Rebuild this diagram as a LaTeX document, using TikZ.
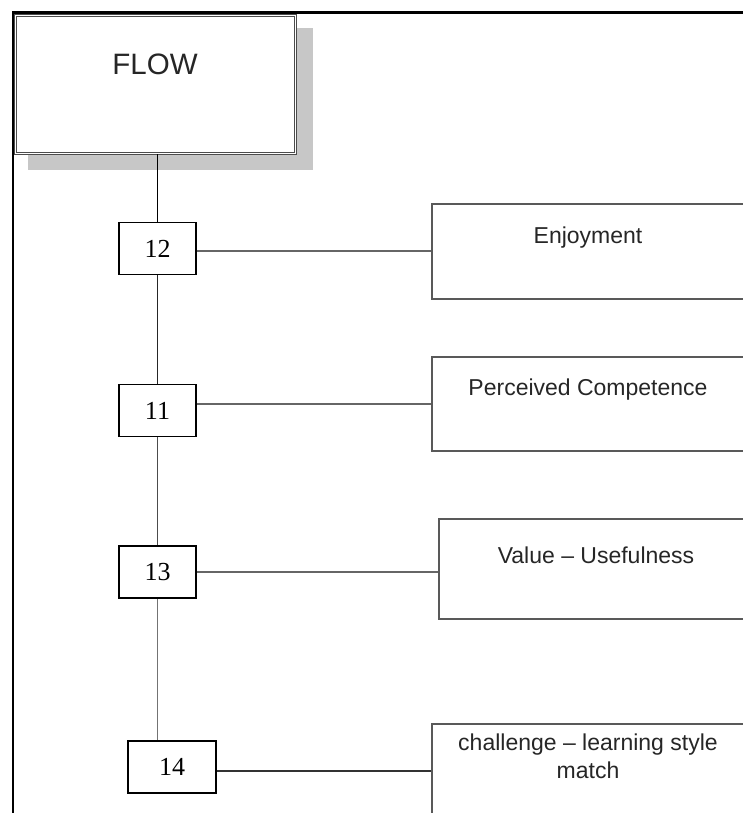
\documentclass[tikz,border=0pt]{standalone}
\usepackage{fontspec}
\setmainfont{Liberation Serif}
\setsansfont{Liberation Sans}
\usepackage{tikz}

\begin{document}
\begin{tikzpicture}[x=1pt,y=-1pt,
        numbox/.style={draw,line width=1.6pt,minimum width=77pt,minimum height=52pt,inner sep=0pt,
                       font=\fontsize{26}{28}\selectfont},
        factor/.style={draw=black!65,line width=1.6pt,anchor=north west,inner sep=0pt},
        txt/.style={font=\sffamily\fontsize{23}{28}\selectfont,text=black!85,inner sep=0pt,anchor=base,align=center},
        link/.style={line width=1.6pt}]
        \useasboundingbox (0,0) rectangle (743,813);
        \clip (0,0) rectangle (743,813);

        % page frame
        \draw[line width=2.2pt] (13,813) -- (13,12.5) -- (743,12.5);

        % top box with shadow
        \fill[black!22] (28,28) rectangle (313,170);
        \node[draw=black!70,line width=1.1pt,double=white,double distance=1.2pt,fill=white,
              minimum width=280pt,minimum height=138pt] (flow) at (155.5,84.5) {};
        \node[txt,font=\sffamily\fontsize{29.5}{32}\selectfont] (flowtxt) at (155,75) {FLOW};

        % numbered boxes
        \node[numbox] (n12) at (157.5,248.5) {12};
        \node[numbox] (n11) at (157.5,410.5) {11};
        \node[numbox] (n13) at (157.5,572) {13};
        \node[numbox,minimum width=88pt] (n14) at (172,767) {14};

        % factor boxes
        \node[factor,minimum width=314pt,minimum height=95pt] (enj) at (431,203) {};
        \node[factor,minimum width=314pt,minimum height=94pt] (pc) at (431,356) {};
        \node[factor,minimum width=316pt,minimum height=100pt] (val) at (438,518) {};
        \node[factor,minimum width=314pt,minimum height=100pt] (ch) at (431,723) {};

        \node[txt] (enjtxt) at (588,243) {Enjoyment};
        \node[txt] (pctxt) at (588,395) {Perceived Competence};
        \node[txt] (valtxt) at (596,563) {Value -- Usefulness};
        \node[txt,anchor=north] (chtxt) at (588,733.5) {challenge -- learning style\\match};

        % spine
        \draw[link,black] (flow.south -| n12.north) -- (n12.north);
        \draw[link,black!85] (n12.south) -- (n11.north);
        \draw[link,black!70] (n11.south) -- (n13.north);
        \draw[link,black!55] (n13.south) -- (n13.south |- n14.north);

        % branches
        \draw[link,black!60] (n12.east |- 0,251) -- (enj.west |- 0,251);
        \draw[link,black!60] (pc.west -| n11.east) -- (pc.west);
        \draw[link,black!60] (n13.east) -- (n13.east -| val.west);
        \draw[link,black!80] (n14.east |- 0,771) -- (ch.west |- 0,771);
\end{tikzpicture}
\end{document}
